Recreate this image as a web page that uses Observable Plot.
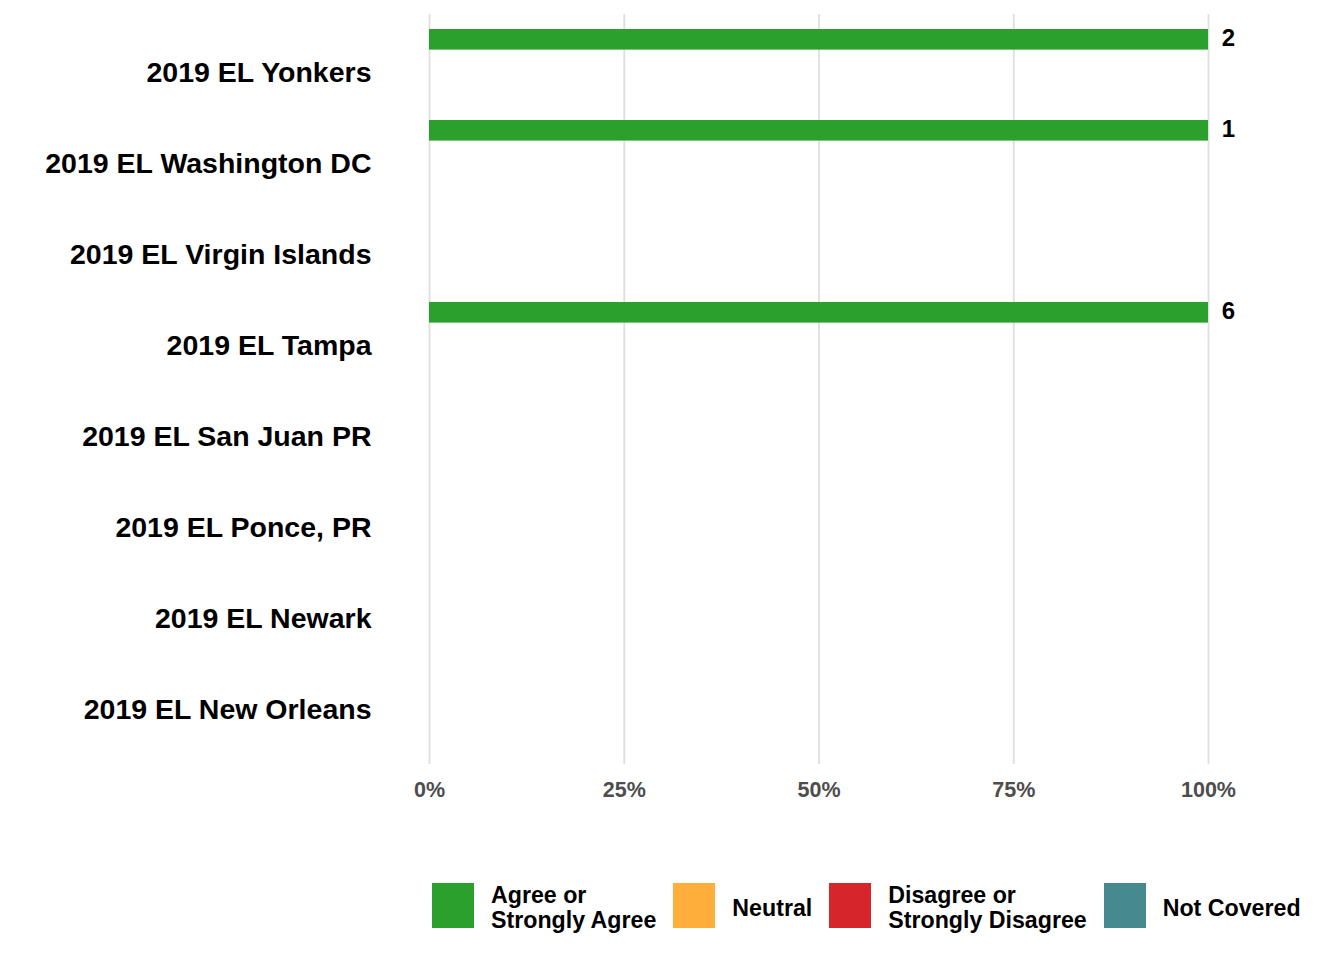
<!DOCTYPE html>
<html><head><meta charset="utf-8">
<script src="https://cdn.jsdelivr.net/npm/d3@7"></script>
<script src="https://cdn.jsdelivr.net/npm/@observablehq/plot@0.6"></script>
<style>
html,body{margin:0;background:#fff;font-family:Arial,"Liberation Sans",sans-serif;min-height:960px;}
#legend{display:flex;align-items:center;margin-left:432px;margin-top:63px;height:45px;}
.sw{width:42px;height:45px;margin-right:17px;flex:none;}
.lt{font-weight:bold;font-size:23.2px;line-height:25px;color:#000;margin-right:17px;white-space:pre;position:relative;top:2.5px;}
</style></head><body>
<div id="chart"></div>
<div id="legend"></div>
<script>
const locations = ["2019 EL Yonkers","2019 EL Washington DC","2019 EL Virgin Islands","2019 EL Tampa","2019 EL San Juan PR","2019 EL Ponce, PR","2019 EL Newark","2019 EL New Orleans"];
const responses = ["Agree or Strongly Agree","Neutral","Disagree or Strongly Disagree","Not Covered"];
const legendLabels = ["Agree or\nStrongly Agree","Neutral","Disagree or\nStrongly Disagree","Not Covered"];
const agreeShare = [1,1,0,1,0,0,0,0];
const neutralShare = [0,0,0,0,0,0,0,0];
const disagreeShare = [0,0,0,0,0,0,0,0];
const notCoveredShare = [0,0,0,0,0,0,0,0];
const respondentCounts = [2,1,null,6,null,null,null,null];
const xTicks = [0,0.25,0.5,0.75,1];
const colors = ["#2ca02c","#feae3a","#d7262b","#468a90"];

const series = [agreeShare, neutralShare, disagreeShare, notCoveredShare];
const rows = [];
locations.forEach((loc, i) => {
  series.forEach((s, j) => {
    if (s[i] > 0) rows.push({location: loc, response: responses[j], share: s[i]});
  });
});
const labels = locations.map((loc, i) => ({location: loc, count: respondentCounts[i], share: agreeShare[i]+neutralShare[i]+disagreeShare[i]+notCoveredShare[i]}))
  .filter(d => d.count != null);

const chart = Plot.plot({
  width: 1344,
  height: 820,
  marginLeft: 429,
  marginRight: 136,
  marginTop: 14,
  marginBottom: 56,
  style: {fontFamily: 'Arial, "Liberation Sans", sans-serif', background: "#fff"},
  x: {domain: [0, 1]},
  y: {domain: locations, range: [25.3, 756.7], padding: 0},
  color: {domain: responses, range: colors},
  marks: [
    Plot.ruleX(xTicks, {stroke: "#dedede", strokeWidth: 1.8}),
    Plot.barX(rows, Plot.stackX({x: "share", y: "location", fill: "response", insetTop: 2, insetBottom: 68.4, order: responses})),
    Plot.text(labels, {x: "share", y: "location", text: d => String(d.count), dx: 20, dy: -35, fontSize: 24, fontWeight: "bold", fill: "#000"}),
    Plot.axisY({tickSize: 0, tickPadding: 58, fontSize: 28.5, fontWeight: "bold", fill: "#000", label: null}),
    Plot.axisX({ticks: xTicks, tickFormat: d3.format(".0%"), tickSize: 0, tickPadding: 17, fontSize: 21.5, fontWeight: "bold", fill: "#4d4d4d", label: null})
  ]
});
document.getElementById("chart").appendChild(chart);

const legend = document.getElementById("legend");
responses.forEach((r, i) => {
  const sw = document.createElement("div");
  sw.className = "sw";
  sw.style.background = colors[i];
  const t = document.createElement("div");
  t.className = "lt";
  t.textContent = legendLabels[i];
  legend.appendChild(sw);
  legend.appendChild(t);
});
</script>
</body></html>
